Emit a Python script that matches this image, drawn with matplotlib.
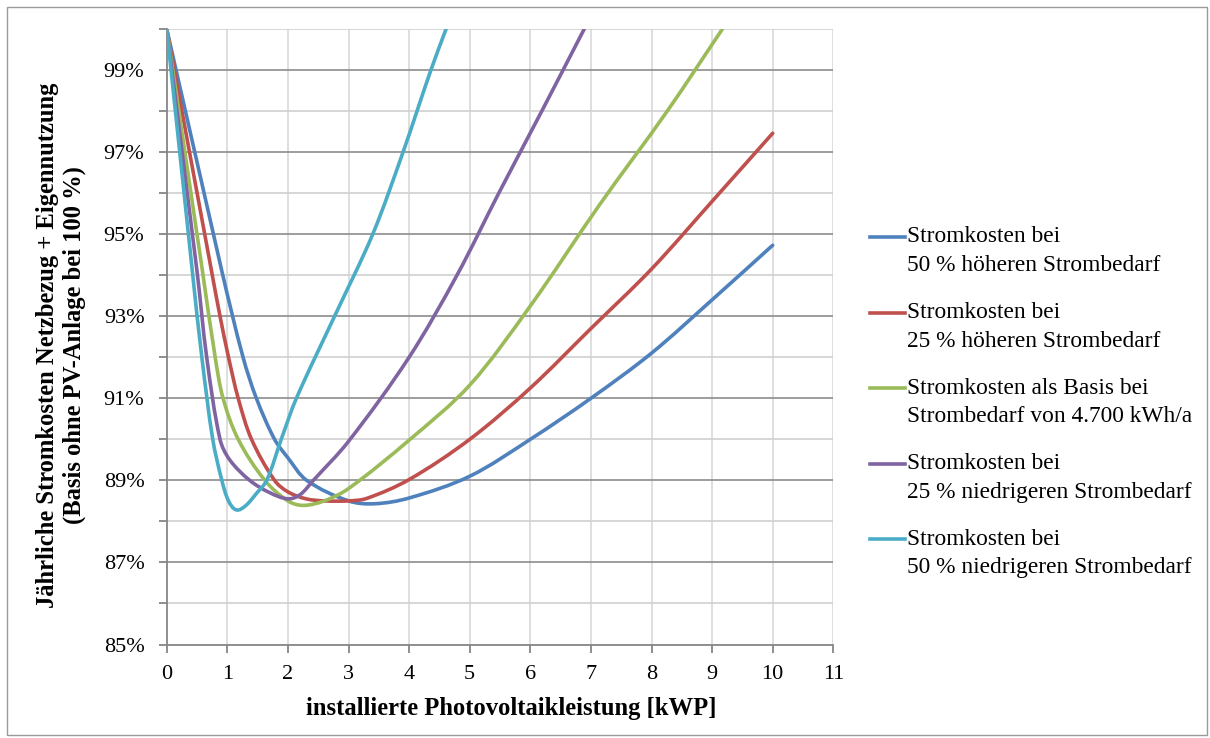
import matplotlib
matplotlib.use("Agg")
import numpy as np
import matplotlib.pyplot as plt
from matplotlib.lines import Line2D
from matplotlib.patches import Rectangle, PathPatch
from matplotlib.path import Path
from matplotlib.ticker import FixedLocator, FuncFormatter

plt.rcParams['font.family'] = ['Liberation Serif', 'DejaVu Serif']

# installed PV power [kWP] and annual cost share [%] per scenario
blue_x = [0, 0.91, 1.26, 1.48, 1.78, 2.0, 2.31, 3.0, 3.43, 4.0, 5.0, 6.0, 7.0, 8.0, 9.0, 10.0]
blue_y = [100, 94.1, 92.0, 91.0, 90.0, 89.55, 89.0, 88.5, 88.43, 88.57, 89.1, 90.0, 91.0, 92.1,
          93.4, 94.73]

red_x = [0, 0.74, 0.88, 1.02, 1.18, 1.40, 1.78, 2.0, 2.3, 2.6, 3.0, 3.3, 4.0, 5.0, 6.0, 7.0,
         8.0, 9.0, 10.0]
red_y = [100, 94.1, 93.0, 92.0, 91.0, 90.0, 89.0, 88.72, 88.55, 88.5, 88.5, 88.56, 89.02, 90.0,
         91.25, 92.7, 94.15, 95.8, 97.46]

green_x = [0, 0.59, 0.80, 0.93, 1.18, 1.62, 2.0, 2.25, 2.6, 3.0, 4.0, 5.0, 6.0, 7.14, 8.26,
           9.17]
green_y = [100, 94.1, 92.0, 91.0, 90.0, 89.0, 88.5, 88.39, 88.5, 88.8, 89.98, 91.32, 93.25,
           95.71, 98.0, 100.0]

purple_x = [0, 0.50, 0.66, 0.88, 1.04, 1.37, 1.7, 2.0, 2.2, 2.42, 3.0, 4.0, 4.79, 5.48, 6.19,
            6.89]
purple_y = [100, 94.1, 92.0, 90.0, 89.5, 89.0, 88.7, 88.55, 88.65, 89.0, 89.95, 92.0, 94.0,
            96.0, 98.0, 100.0]

cyan_x = [0, 0.43, 0.58, 0.76, 0.91, 1.02, 1.15, 1.30, 1.48, 1.65, 1.89, 2.14, 2.77, 3.40,
          3.90, 4.36, 4.61]
cyan_y = [100, 94.0, 92.0, 90.0, 89.0, 88.5, 88.28, 88.38, 88.68, 89.0, 90.0, 91.0, 93.0, 95.0,
          97.0, 99.0, 100.0]

series_labels = [
    "Stromkosten bei\n50 % höheren Strombedarf",
    "Stromkosten bei\n25 % höheren Strombedarf",
    "Stromkosten als Basis bei\nStrombedarf von 4.700 kWh/a",
    "Stromkosten bei\n25 % niedrigeren Strombedarf",
    "Stromkosten bei\n50 % niedrigeren Strombedarf",
]
series_colors = ["#4F81BD", "#C0504D", "#9BBB59", "#8064A2", "#4BACC6"]

x_ticks = list(range(0, 12))
y_major = [85, 87, 89, 91, 93, 95, 97, 99]
y_minor = [86, 88, 90, 92, 94, 96, 98, 100]

W, H = 1210, 738


def smoothed_path(x, y, sx=60.6, sy=41.0):
    """Smoothed line through the points (cubic Bezier segments, like a spreadsheet's
    'smoothed line' option). The first segment from the origin stays straight.
    Tangents are computed in screen-like units."""
    P = np.column_stack([np.asarray(x, float) * sx, np.asarray(y, float) * sy])
    n = len(P)
    T = np.zeros_like(P)
    for i in range(n):
        a = P[max(i - 1, 0)]
        b = P[min(i + 1, n - 1)]
        d = b - a
        T[i] = d / np.hypot(*d)
    verts = [P[0]]
    codes = [Path.MOVETO]
    for i in range(n - 1):
        seg = P[i + 1] - P[i]
        L = np.hypot(*seg)
        if i == 0:
            c1, c2 = P[i] + seg / 3, P[i + 1] - seg / 3
        else:
            c1, c2 = P[i] + T[i] * L / 3, P[i + 1] - T[i + 1] * L / 3
        verts += [c1, c2, P[i + 1]]
        codes += [Path.CURVE4] * 3
    V = np.array(verts)
    V[:, 0] /= sx
    V[:, 1] /= sy
    return Path(V, codes)


fig = plt.figure(figsize=(W / 100, H / 100), dpi=100)
fig.patch.set_facecolor("white")

# outer chart frame
fig.add_artist(Rectangle((7 / W, 3 / H), (W - 10) / W, (H - 10) / H, transform=fig.transFigure,
                         fill=False, edgecolor="#9a9a9a", linewidth=1.0))

ax = fig.add_axes([166.7 / W, 1 - 644.5 / H, 666.6 / W, 615.5 / H])
ax.set_xlim(0, 11)
ax.set_ylim(85, 100)

# grid
for xv in x_ticks[1:]:
    ax.axvline(xv, color="#d9d9d9", lw=1.2, zorder=1)
for yv in y_minor:
    ax.axhline(yv, color="#d0d0d0", lw=1.2, zorder=1)
for yv in y_major[1:]:
    ax.axhline(yv, color="#8c8c8c", lw=1.2, zorder=1.5)

for s in ["top", "right"]:
    ax.spines[s].set_visible(False)
for s in ["left", "bottom"]:
    ax.spines[s].set_color("#868686")
    ax.spines[s].set_linewidth(1.3)

ax.xaxis.set_major_locator(FixedLocator(x_ticks))
ax.yaxis.set_major_locator(FixedLocator(y_major))
ax.yaxis.set_minor_locator(FixedLocator(y_minor))
ax.yaxis.set_major_formatter(FuncFormatter(lambda v, p: f"{v:.0f}%"))
ax.tick_params(axis="both", which="both", direction="out", color="#868686", width=1.3, length=6,
               labelsize=16)
ax.tick_params(axis="x", pad=8.5)
ax.tick_params(axis="y", pad=10)

xs = [blue_x, red_x, green_x, purple_x, cyan_x]
ys = [blue_y, red_y, green_y, purple_y, cyan_y]
for x, y, c in zip(xs, ys, series_colors):
    ax.add_patch(PathPatch(smoothed_path(x, y), facecolor="none", edgecolor=c, lw=2.6,
                           capstyle="round", joinstyle="round", zorder=3))

fig.text(511 / W, 1 - 709 / H, "installierte Photovoltaikleistung [kWP]", ha="center", va="center",
         fontsize=17.7, fontweight="bold")
fig.text(61 / W, 1 - 345 / H,
         "Jährliche Stromkosten Netzbezug + Eigennutzung\n(Basis ohne PV-Anlage bei 100 %)",
         ha="center", va="center", rotation=90, fontsize=17.7, fontweight="bold", linespacing=1.15)

# legend
for i, (lab, c) in enumerate(zip(series_labels, series_colors)):
    y0 = 237 + i * 75.6
    fig.add_artist(Line2D([870 / W, 905 / W], [1 - y0 / H, 1 - y0 / H], color=c, lw=2.6,
                          transform=fig.transFigure))
    for j, line in enumerate(lab.split("\n")):
        fig.text(907 / W, 1 - (y0 + j * 28.5) / H, line, ha="left", va="center", fontsize=16.8)

fig.savefig("out.png", dpi=100, facecolor="white")
